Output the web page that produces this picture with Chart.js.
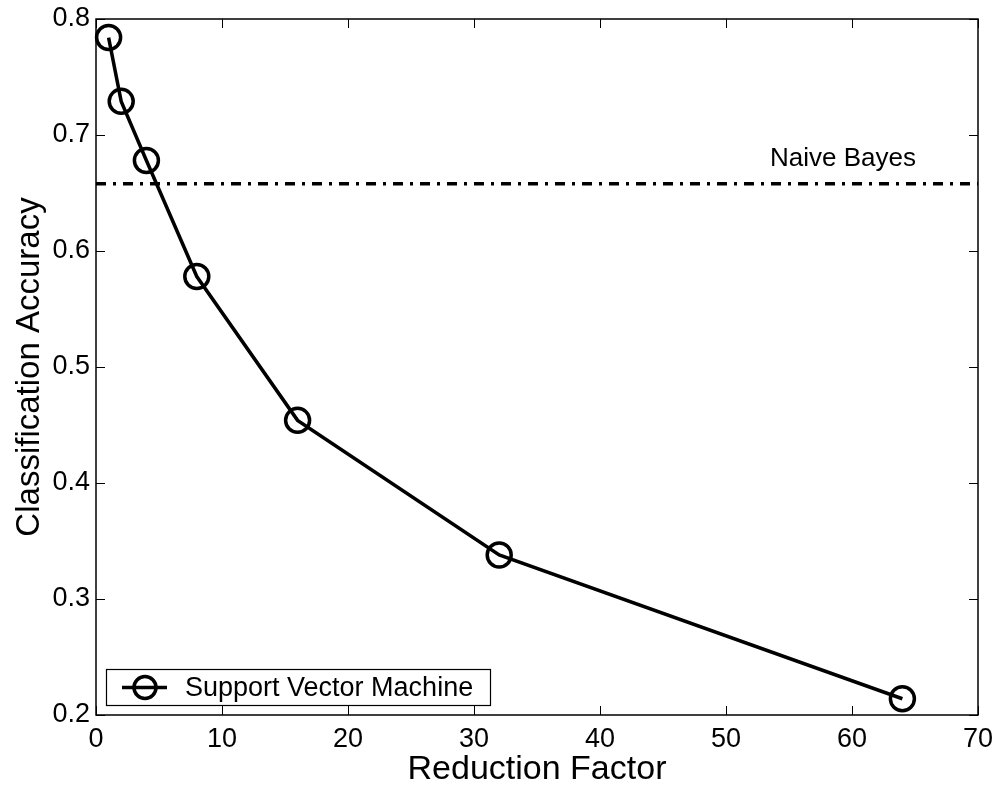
<!DOCTYPE html>
<html>
<head>
<meta charset="utf-8">
<script src="https://cdn.jsdelivr.net/npm/chart.js@4/dist/chart.umd.min.js"></script>
<style>
  html, body { margin: 0; padding: 0; background: #fff; }
  #wrap { width: 999px; height: 787px; }
</style>
</head>
<body>
<div id="wrap"><canvas id="c" width="999" height="787"></canvas></div>
<script>
const reductionFactors = [1, 2, 4, 8, 16, 32, 64];
const svmAccuracy = [0.784, 0.729, 0.678, 0.578, 0.454, 0.338, 0.214];
const naiveBayesAccuracy = 0.658;
const naiveBayesSpan = [0, 70];
const xTicks = [0, 10, 20, 30, 40, 50, 60, 70];
const yTicks = [0.2, 0.3, 0.4, 0.5, 0.6, 0.7, 0.8];
const svmLabel = 'Support Vector Machine';
const nbLabel = 'Naive Bayes';
const xTitle = 'Reduction Factor';
const yTitle = 'Classification Accuracy';

const FONT = '"Liberation Sans", Arial, sans-serif';

const boxPlugin = {
  id: 'boxPlugin',
  afterDatasetsDraw(chart) {
    const { ctx, chartArea: a, scales } = chart;
    const xs = scales.x, ys = scales.y;
    ctx.save();
    ctx.setLineDash([]);
    ctx.strokeStyle = '#000';
    ctx.lineWidth = 1.5;
    ctx.strokeRect(a.left, a.top, a.right - a.left, a.bottom - a.top);
    const tl = 9;
    ctx.lineWidth = 1;
    ctx.beginPath();
    xTicks.forEach(v => {
      const px = Math.round(xs.getPixelForValue(v)) + 0.5;
      ctx.moveTo(px, a.bottom); ctx.lineTo(px, a.bottom - tl);
      ctx.moveTo(px, a.top); ctx.lineTo(px, a.top + tl);
    });
    yTicks.forEach(v => {
      const py = Math.round(ys.getPixelForValue(v)) + 0.5;
      ctx.moveTo(a.left, py); ctx.lineTo(a.left + tl, py);
      ctx.moveTo(a.right, py); ctx.lineTo(a.right - tl, py);
    });
    ctx.stroke();

    // Naive Bayes label
    ctx.fillStyle = '#000';
    ctx.font = '26px ' + FONT;
    ctx.textAlign = 'left';
    ctx.textBaseline = 'alphabetic';
    ctx.fillText(nbLabel, 770, 166);

    // Legend
    const lx = 106, ly = 669, lw = 384, lh = 36;
    ctx.fillStyle = '#fff';
    ctx.fillRect(lx, ly, lw, lh);
    ctx.lineWidth = 1.2;
    ctx.strokeStyle = '#000';
    ctx.strokeRect(lx + 0.5, ly + 0.5, lw, lh);
    const my = ly + lh / 2 + 0.5;
    ctx.lineWidth = 3.5;
    ctx.beginPath();
    ctx.moveTo(122, my); ctx.lineTo(167, my);
    ctx.stroke();
    ctx.beginPath();
    ctx.arc(145, my, 11, 0, Math.PI * 2);
    ctx.stroke();
    ctx.fillStyle = '#000';
    ctx.font = '27px ' + FONT;
    ctx.textBaseline = 'middle';
    ctx.fillText(svmLabel, 185, my + 1);
    ctx.restore();
  }
};

new Chart(document.getElementById('c'), {
  type: 'scatter',
  plugins: [boxPlugin],
  data: {
    datasets: [
      {
        label: svmLabel,
        data: reductionFactors.map((x, i) => ({ x: x, y: svmAccuracy[i] })),
        showLine: true,
        borderColor: '#000',
        borderWidth: 3.5,
        backgroundColor: 'rgba(0,0,0,0)',
        pointStyle: 'circle',
        pointRadius: 12,
        pointBorderWidth: 3.5,
        pointBorderColor: '#000',
        pointBackgroundColor: 'rgba(0,0,0,0)',
        pointHoverRadius: 12,
        clip: false,
        order: 1
      },
      {
        label: nbLabel,
        data: naiveBayesSpan.map(x => ({ x: x, y: naiveBayesAccuracy })),
        showLine: true,
        borderColor: '#000',
        borderWidth: 3.5,
        borderDash: [10, 7, 3, 7],
        pointRadius: 0,
        pointHoverRadius: 0,
        order: 2
      }
    ]
  },
  options: {
    responsive: false,
    animation: false,
    events: [],
    layout: { padding: { top: 19, right: 21, left: 0, bottom: 0 } },
    plugins: { legend: { display: false }, tooltip: { enabled: false } },
    scales: {
      x: {
        type: 'linear',
        min: 0, max: 70,
        afterBuildTicks(s) { s.ticks = xTicks.map(v => ({ value: v })); },
        afterFit(s) { s.height = 72; s.paddingLeft = 0; s.paddingRight = 0; },
        grid: { display: false, drawTicks: false },
        border: { display: false },
        ticks: {
          color: '#000',
          font: { family: FONT, size: 27 },
          padding: 8,
          maxRotation: 0,
          callback: v => String(v)
        },
        title: {
          display: true,
          text: xTitle,
          color: '#000',
          font: { family: FONT, size: 34, lineHeight: 1 },
          padding: { top: 0, bottom: 0 }
        }
      },
      y: {
        type: 'linear',
        min: 0.2, max: 0.8,
        afterBuildTicks(s) { s.ticks = yTicks.map(v => ({ value: v })); },
        afterFit(s) { s.width = 96; s.paddingTop = 0; s.paddingBottom = 0; },
        grid: { display: false, drawTicks: false },
        border: { display: false },
        ticks: {
          color: '#000',
          font: { family: FONT, size: 27 },
          padding: 6,
          callback: v => (Math.round(v * 10) / 10).toFixed(1)
        },
        title: {
          display: true,
          text: yTitle,
          color: '#000',
          font: { family: FONT, size: 33, lineHeight: 1 },
          padding: { top: 13, bottom: 0 }
        }
      }
    }
  }
});
</script>
</body>
</html>
